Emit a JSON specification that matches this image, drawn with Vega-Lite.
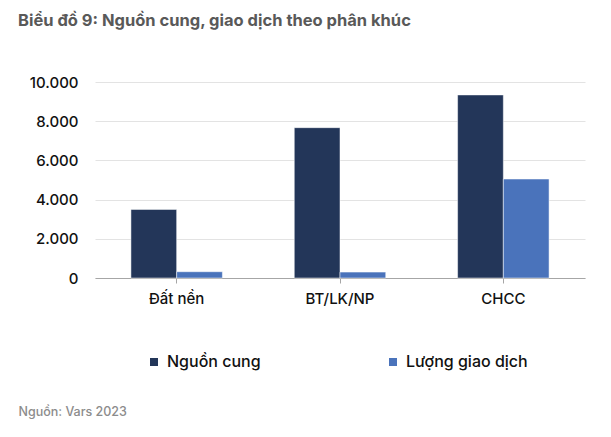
{
  "$schema": "https://vega.github.io/schema/vega-lite/v6.json",
  "width": 490,
  "height": 196,
  "autosize": {"type": "none"},
  "padding": {"left": 95, "top": 82, "right": 26, "bottom": 159},
  "background": "white",
  "config": {
    "font": "Inter",
    "view": {"stroke": null}
  },
  "title": {
    "text": "Biểu đồ 9: Nguồn cung, giao dịch theo phân khúc",
    "anchor": "start",
    "frame": "group",
    "dx": -77,
    "offset": 46,
    "fontSize": 16.5,
    "fontWeight": "bold",
    "color": "#595959",
    "font": "Inter"
  },
  "data": {
    "values": [
      {"segment": "Đất nền", "series": "Nguồn cung", "value": 3500},
      {"segment": "Đất nền", "series": "Lượng giao dịch", "value": 320},
      {"segment": "BT/LK/NP", "series": "Nguồn cung", "value": 7670},
      {"segment": "BT/LK/NP", "series": "Lượng giao dịch", "value": 300},
      {"segment": "CHCC", "series": "Nguồn cung", "value": 9340},
      {"segment": "CHCC", "series": "Lượng giao dịch", "value": 5050}
    ]
  },
  "mark": {"type": "bar", "stroke": "white", "strokeWidth": 0.5},
  "encoding": {
    "x": {
      "field": "segment",
      "type": "nominal",
      "sort": ["Đất nền", "BT/LK/NP", "CHCC"],
      "scale": {"paddingInner": 0.44, "paddingOuter": 0.22},
      "axis": {
        "title": "Nguồn: Vars 2023",
        "titleAnchor": "start",
        "titleAlign": "left",
        "titleX": -77,
        "titleY": 137,
        "titleBaseline": "alphabetic",
        "titleFontSize": 12.5,
        "titleFontWeight": 500,
        "titleColor": "#8c8c8c",
        "labelAngle": 0,
        "labelFontSize": 15,
        "labelFontWeight": 500,
        "labelColor": "#111111",
        "labelPadding": 8,
        "domainColor": "#a6a6a6",
        "tickColor": "#a6a6a6",
        "tickSize": 5,
        "grid": false
      }
    },
    "xOffset": {
      "field": "series",
      "type": "nominal",
      "sort": ["Nguồn cung", "Lượng giao dịch"],
      "scale": {"paddingInner": 0}
    },
    "y": {
      "field": "value",
      "type": "quantitative",
      "scale": {"domain": [0, 10000]},
      "axis": {
        "title": null,
        "values": [0, 2000, 4000, 6000, 8000, 10000],
        "labelExpr": "replace(format(datum.value, ','), ',', '.')",
        "labelFontSize": 15,
        "labelFontWeight": 500,
        "labelColor": "#111111",
        "labelPadding": 17,
        "domain": false,
        "ticks": false,
        "gridColor": "#e3e3e3"
      }
    },
    "color": {
      "field": "series",
      "type": "nominal",
      "sort": ["Nguồn cung", "Lượng giao dịch"],
      "scale": {"domain": ["Nguồn cung", "Lượng giao dịch"], "range": ["#233659", "#4A73BB"]},
      "legend": {
        "title": null,
        "orient": "none",
        "legendX": 51,
        "legendY": 272,
        "direction": "horizontal",
        "symbolType": "square",
        "symbolSize": 64,
        "symbolStrokeWidth": 0,
        "labelFontSize": 16,
        "labelFontWeight": 500,
        "labelColor": "#111111",
        "labelOffset": 5,
        "columnPadding": 124
      }
    }
  }
}
